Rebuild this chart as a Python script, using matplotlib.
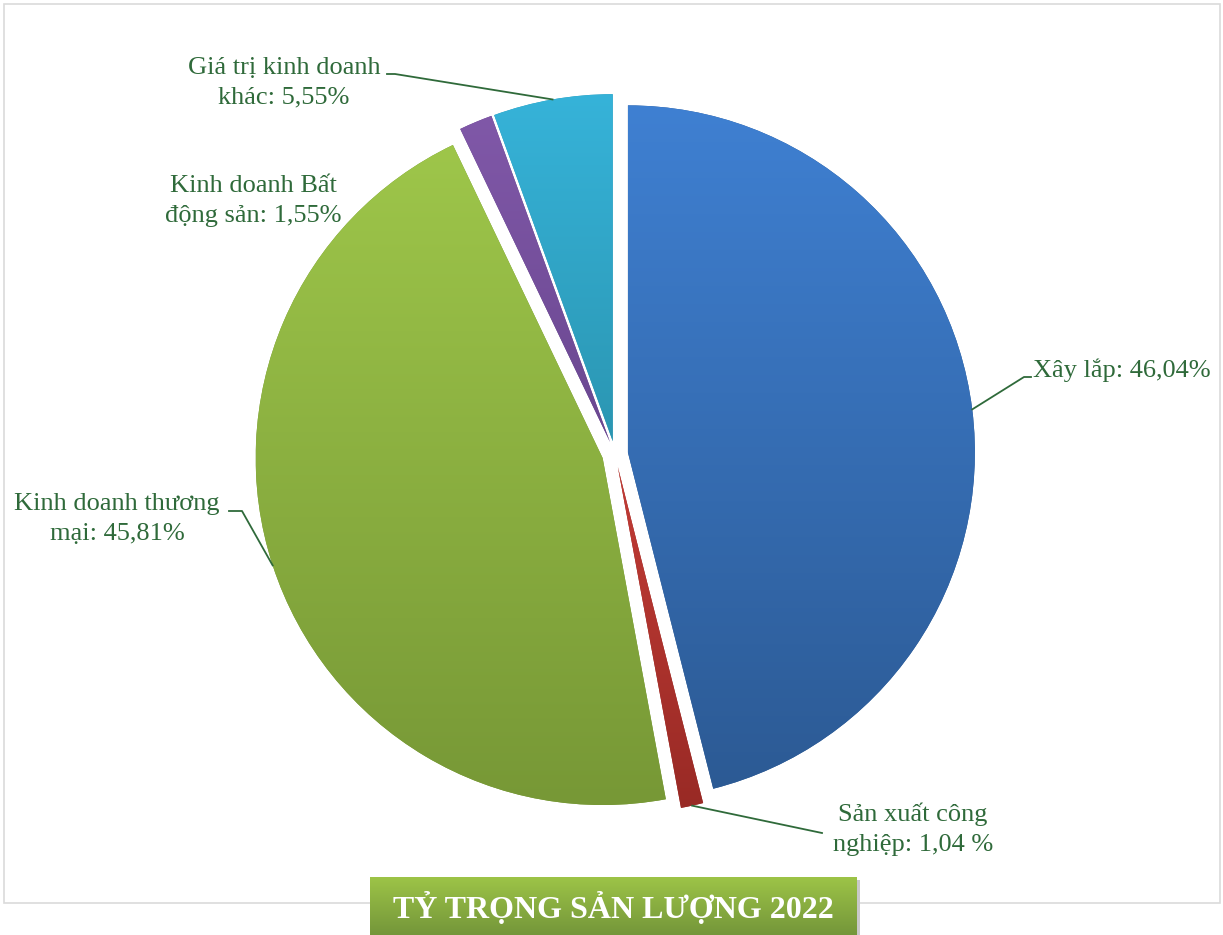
import numpy as np
import matplotlib
matplotlib.use("Agg")
import matplotlib.pyplot as plt
from matplotlib.colors import to_rgb
from matplotlib.patches import Rectangle

# data (clockwise from 12 o'clock)
categories = ["Xây lắp", "Sản xuất công nghiệp", "Kinh doanh thương mại",
              "Kinh doanh Bất động sản", "Giá trị kinh doanh khác"]
values = [46.04, 1.04, 45.81, 1.55, 5.55]
label_texts = ["Xây lắp: 46,04%",
               "Sản xuất công\nnghiệp: 1,04 %",
               "Kinh doanh thương\nmại: 45,81%",
               "Kinh doanh Bất\nđộng sản: 1,55%",
               "Giá trị kinh doanh\nkhác: 5,55%"]
title = "TỶ TRỌNG SẢN LƯỢNG 2022"

top_colors = ["#3F80D2", "#C23C36", "#9EC64A", "#8058A8", "#36B3D9"]
bottom_colors = ["#2C5A94", "#992A25", "#779836", "#6A4790", "#2B96B2"]
text_color = "#2F6A3A"

W, H = 1223, 935


def py(y):
    # pixel row (from top) -> data y
    return H - y


def gradient(c_bottom, c_top, n=256):
    t = np.linspace(0, 1, n)[:, None, None]
    b = np.array(to_rgb(c_bottom))[None, None, :]
    a = np.array(to_rgb(c_top))[None, None, :]
    return b + (a - b) * t


def mid_point(w):
    ang = np.deg2rad((w.theta1 + w.theta2) / 2)
    return w.center[0] + w.r * np.cos(ang), w.center[1] + w.r * np.sin(ang)


fig = plt.figure(figsize=(W / 100, H / 100), dpi=100)
ax = fig.add_axes([0, 0, 1, 1])

# explode is in data units (pixels here)
wedges, _ = ax.pie(values, startangle=90, counterclock=False,
                   explode=[13] * len(values),
                   center=(615, py(454)), radius=347,
                   wedgeprops=dict(linewidth=0))

for w, c0, c1 in zip(wedges, bottom_colors, top_colors):
    w.set_facecolor(c0)
    bb = w.get_path().get_extents()
    im = ax.imshow(gradient(c0, c1), extent=[bb.x0, bb.x1, bb.y0, bb.y1],
                   origin="lower", aspect="auto", interpolation="bilinear",
                   zorder=2)
    im.set_clip_path(w)

# frame around the chart area
ax.add_patch(Rectangle((4, py(903)), 1216, 899, fill=False,
                       edgecolor="#DADADA", lw=1.2, zorder=1))

font = "Liberation Serif"
kw = dict(color=text_color, fontsize=19, family=font, linespacing=1.45)

# labels and leader lines
mx, my = mid_point(wedges[0])
ax.plot([mx, 1024, 1031], [my, py(377), py(377)], color=text_color, lw=1.3, zorder=3)
ax.text(1033, py(370), label_texts[0], ha="left", va="center", **kw)

mx, my = mid_point(wedges[1])
ax.plot([mx, 822], [my, py(833)], color=text_color, lw=1.3, zorder=3)
ax.text(913, py(829), label_texts[1], ha="center", va="center", **kw)

mx, my = mid_point(wedges[2])
ax.plot([mx, 242, 229], [my, py(511), py(511)], color=text_color, lw=1.3, zorder=3)
ax.text(117, py(519), label_texts[2], ha="center", va="center", **kw)

ax.text(253, py(201), label_texts[3], ha="center", va="center", **kw)

mx, my = mid_point(wedges[4])
ax.plot([mx, 395, 387], [my, py(74), py(74)], color=text_color, lw=1.3, zorder=3)
ax.text(284, py(83), label_texts[4], ha="center", va="center", **kw)

# title banner
ax.add_patch(Rectangle((373, -4), 487, py(880) + 4, color="#C8C8C8", lw=0, zorder=4))
ax.imshow(gradient("#74963A", "#9DC447"), extent=[370, 857, 0, py(877)],
          origin="lower", aspect="auto", interpolation="bilinear", zorder=5)
ax.text(613, py(908), title, ha="center", va="center", color="white",
        fontsize=23, fontweight="bold", family=font, zorder=6)

ax.set_xlim(0, W)
ax.set_ylim(0, H)
ax.axis("off")

fig.savefig("out.png", dpi=100)
